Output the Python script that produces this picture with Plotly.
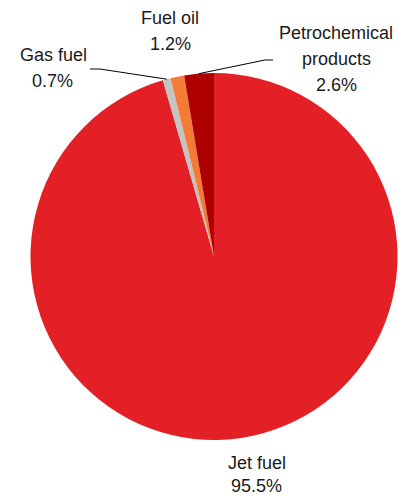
import math
import plotly.graph_objects as go

# Data
labels = ["Jet fuel", "Gas fuel", "Fuel oil", "Petrochemical products"]
values = [95.5, 0.7, 1.2, 2.6]
colors = ["#E32026", "#C4C4C4", "#F37B36", "#AE0000"]

W, H = 402, 498
cx, cy, r = 214.0, 256.5, 183.5  # pie centre and radius in pixels


def px_x(x):
    return x / W


def px_y(y):
    return 1 - y / H


fig = go.Figure(go.Pie(
    labels=labels,
    values=values,
    sort=False,
    direction="clockwise",
    rotation=0,
    marker=dict(colors=colors, line=dict(width=0)),
    textinfo="none",
    hoverinfo="label+percent",
    showlegend=False,
    domain=dict(x=[px_x(cx - r), px_x(cx + r)], y=[px_y(cy + r), px_y(cy - r)]),
))

# Angle (clockwise from 12 o'clock) of the middle of each slice
total = sum(values)
mid_angles = []
acc = 0.0
for v in values:
    mid_angles.append((acc + v / 2) / total * 2 * math.pi)
    acc += v


def edge_point(i):
    a = mid_angles[i]
    return cx + r * math.sin(a), cy - r * math.cos(a)


font = dict(family="Liberation Sans, Arial, sans-serif", size=18, color="#1a1a1a")

# Label lines: (text, centre x, centre y)
label_lines = [
    ("Fuel oil", 170, 18), (f"{values[2]:.1f}%", 170, 44),
    ("Gas fuel", 53, 55), (f"{values[1]:.1f}%", 52, 81),
    ("Petrochemical", 336, 33), ("products", 336, 59), (f"{values[3]:.1f}%", 336, 85),
    ("Jet fuel", 257, 463), (f"{values[0]:.1f}%", 256, 486),
]
annotations = [
    dict(text=t, x=px_x(x), y=px_y(y), xref="paper", yref="paper",
         xanchor="center", yanchor="middle", showarrow=False, font=font)
    for t, x, y in label_lines
]

# Leader lines from labels to slices
shapes = []
leaders = [
    (1, [(90, 69), (100, 69)]),
    (3, [(273, 60), (265, 60)]),
]
for idx, pts in leaders:
    ex, ey = edge_point(idx)
    pts = pts + [(ex, ey)]
    path = "M " + " L ".join(f"{px_x(x)},{px_y(y)}" for x, y in pts)
    shapes.append(dict(type="path", path=path, xref="paper", yref="paper",
                       line=dict(color="#000000", width=1)))

fig.update_layout(
    width=W, height=H,
    margin=dict(l=0, r=0, t=0, b=0),
    paper_bgcolor="white",
    plot_bgcolor="white",
    annotations=annotations,
    shapes=shapes,
)

fig.write_html("out.html")
